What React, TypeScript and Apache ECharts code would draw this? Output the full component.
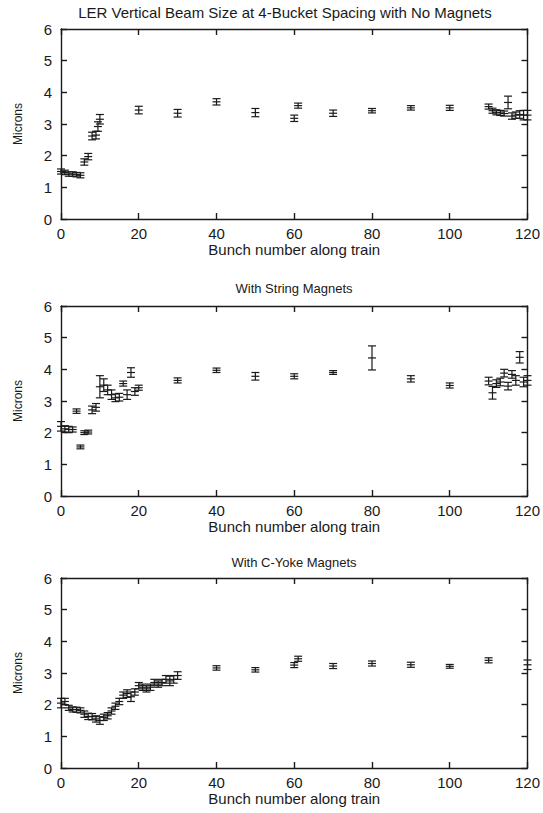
import React, { useEffect, useRef } from "react";
import * as echarts from "echarts";

// Panel 1: no magnets
const bunch1 = [0, 1, 2, 3, 4, 5, 6, 7, 8, 9, 9.5, 10, 20, 30, 40, 50, 60, 61, 70, 80, 90, 100, 110, 111, 112, 113, 114, 115, 116, 117, 118, 119, 120];
const value1 = [1.5, 1.47, 1.42, 1.42, 1.4, 1.38, 1.8, 1.97, 2.62, 2.65, 2.92, 3.15, 3.44, 3.34, 3.7, 3.36, 3.18, 3.58, 3.34, 3.42, 3.51, 3.51, 3.55, 3.42, 3.37, 3.35, 3.33, 3.68, 3.25, 3.28, 3.3, 3.28, 3.28];
const err1 = [0.08, 0.07, 0.07, 0.07, 0.07, 0.08, 0.1, 0.1, 0.12, 0.12, 0.15, 0.15, 0.12, 0.12, 0.1, 0.13, 0.1, 0.08, 0.1, 0.07, 0.07, 0.08, 0.08, 0.08, 0.08, 0.08, 0.08, 0.2, 0.1, 0.1, 0.12, 0.15, 0.15];

// Panel 2: string magnets
const bunch2 = [0, 1, 2, 3, 4, 5, 6, 7, 8, 9, 10, 11, 12, 13, 14, 15, 16, 17, 18, 19, 20, 30, 40, 50, 60, 70, 80, 90, 100, 110, 111, 112, 113, 114, 115, 116, 117, 118, 119, 120];
const value2 = [2.2, 2.12, 2.1, 2.1, 2.68, 1.55, 2.0, 2.02, 2.72, 2.8, 3.45, 3.5, 3.35, 3.2, 3.1, 3.12, 3.55, 3.2, 3.9, 3.3, 3.42, 3.65, 3.97, 3.78, 3.78, 3.9, 4.36, 3.7, 3.49, 3.63, 3.26, 3.55, 3.6, 3.88, 3.47, 3.84, 3.65, 4.38, 3.6, 3.65];
const err2 = [0.15, 0.1, 0.1, 0.08, 0.07, 0.06, 0.06, 0.06, 0.12, 0.12, 0.35, 0.2, 0.15, 0.15, 0.12, 0.12, 0.08, 0.15, 0.15, 0.12, 0.08, 0.08, 0.07, 0.12, 0.08, 0.06, 0.38, 0.1, 0.08, 0.12, 0.2, 0.12, 0.12, 0.12, 0.12, 0.12, 0.15, 0.18, 0.15, 0.15];

// Panel 3: C-yoke magnets
const bunch3 = [0, 1, 2, 3, 4, 5, 6, 7, 8, 9, 10, 11, 12, 13, 14, 15, 16, 17, 18, 19, 20, 21, 22, 23, 24, 25, 26, 27, 28, 29, 30, 40, 50, 60, 61, 70, 80, 90, 100, 110, 120];
const value3 = [2.05, 2.1, 1.9, 1.85, 1.84, 1.82, 1.7, 1.63, 1.62, 1.55, 1.5, 1.6, 1.65, 1.8, 1.95, 2.1, 2.3, 2.35, 2.25, 2.4, 2.6, 2.55, 2.5, 2.55, 2.7, 2.65, 2.7, 2.8, 2.75, 2.8, 2.92, 3.16, 3.1, 3.25, 3.45, 3.22, 3.3, 3.26, 3.21, 3.4, 3.26];
const err3 = [0.15, 0.1, 0.08, 0.08, 0.08, 0.08, 0.1, 0.1, 0.1, 0.1, 0.12, 0.1, 0.1, 0.1, 0.1, 0.1, 0.1, 0.12, 0.15, 0.1, 0.1, 0.1, 0.1, 0.1, 0.1, 0.1, 0.1, 0.12, 0.15, 0.12, 0.12, 0.07, 0.07, 0.08, 0.08, 0.08, 0.08, 0.08, 0.06, 0.08, 0.15];

const titles = [
  "LER Vertical Beam Size at 4-Bucket Spacing with No Magnets",
  "With String Magnets",
  "With C-Yoke Magnets",
];
const xTickInterval = 20;
const yTickInterval = 1;

const FONT = "Liberation Sans, Arial, sans-serif";
const INK = "#1a1a1a";

function zip(b: number[], v: number[], e: number[]) {
  return b.map((x, i) => [x, v[i], e[i]]);
}

export default function App() {
  const ref = useRef<HTMLDivElement>(null);
  useEffect(() => {
    if (!ref.current) return;
    const chart = echarts.init(ref.current, null, { renderer: "svg" });
    const gridTops = [29, 306, 578];
    const gridH = 190;
    const grids = gridTops.map((t) => ({ left: 61, top: t, width: 467, height: gridH }));
    const panels = [zip(bunch1, value1, err1), zip(bunch2, value2, err2), zip(bunch3, value3, err3)];

    const lineStyle = { color: INK, width: 1.4 };
    const xMain = grids.map((_, i) => ({
      type: "value",
      gridIndex: i,
      min: 0,
      max: 120,
      interval: xTickInterval,
      position: "bottom",
      axisLine: { show: true, onZero: false, lineStyle },
      axisTick: { show: true, inside: true, length: 6, lineStyle },
      axisLabel: { fontSize: 15, color: INK, fontFamily: FONT, margin: 7 },
      splitLine: { show: false },
      name: "Bunch number along train",
      nameLocation: "middle",
      nameGap: 21,
      nameTextStyle: { fontSize: 15, color: INK, fontFamily: FONT },
    }));
    const xMirror = grids.map((_, i) => ({
      type: "value",
      gridIndex: i,
      min: 0,
      max: 120,
      interval: xTickInterval,
      position: "top",
      axisLine: { show: true, onZero: false, lineStyle },
      axisTick: { show: true, inside: true, length: 6, lineStyle },
      axisLabel: { show: false },
      splitLine: { show: false },
    }));
    const yMain = grids.map((_, i) => ({
      type: "value",
      gridIndex: i,
      min: 0,
      max: 6,
      interval: yTickInterval,
      position: "left",
      axisLine: { show: true, onZero: false, lineStyle },
      axisTick: { show: true, inside: true, length: 6, lineStyle },
      axisLabel: { fontSize: 15, color: INK, fontFamily: FONT, margin: 9 },
      splitLine: { show: false },
      name: "Microns",
      nameLocation: "middle",
      nameGap: 37,
      nameTextStyle: { fontSize: 12, color: INK, fontFamily: FONT },
    }));
    const yMirror = grids.map((_, i) => ({
      type: "value",
      gridIndex: i,
      min: 0,
      max: 6,
      interval: yTickInterval,
      position: "right",
      axisLine: { show: true, onZero: false, lineStyle },
      axisTick: { show: true, inside: true, length: 6, lineStyle },
      axisLabel: { show: false },
      splitLine: { show: false },
    }));

    const renderItem = (params: any, api: any) => {
      const x = api.value(0);
      const y = api.value(1);
      const e = api.value(2);
      const c = api.coord([x, y]);
      const top = api.coord([x, y + e]);
      const bot = api.coord([x, y - e]);
      const hw = 4;
      const st = { stroke: INK, lineWidth: 1.2 };
      return {
        type: "group",
        children: [
          { type: "line", shape: { x1: c[0], y1: top[1], x2: c[0], y2: bot[1] }, style: st },
          { type: "line", shape: { x1: c[0] - hw, y1: top[1], x2: c[0] + hw, y2: top[1] }, style: st },
          { type: "line", shape: { x1: c[0] - hw, y1: bot[1], x2: c[0] + hw, y2: bot[1] }, style: st },
          { type: "line", shape: { x1: c[0] - hw, y1: c[1], x2: c[0] + hw, y2: c[1] }, style: st },
        ],
      };
    };

    chart.setOption({
      animation: false,
      backgroundColor: "#fff",
      title: titles.map((t, i) => ({
        text: t,
        left: i === 0 ? 285 : 294,
        textAlign: "center",
        top: [5, 282, 556][i],
        padding: 0,
        textStyle: {
          fontSize: i === 0 ? 15 : 13,
          fontWeight: "normal",
          color: INK,
          fontFamily: FONT,
        },
      })),
      grid: grids,
      xAxis: [...xMain, ...xMirror],
      yAxis: [...yMain, ...yMirror],
      series: panels.map((d, i) => ({
        type: "custom",
        xAxisIndex: i,
        yAxisIndex: i,
        data: d,
        encode: { x: 0, y: 1 },
        renderItem,
      })),
    });
    return () => chart.dispose();
  }, []);
  return (
    <div
      ref={ref}
      style={{ position: "absolute", left: 0, top: 0, width: 543, height: 813 }}
    />
  );
}
